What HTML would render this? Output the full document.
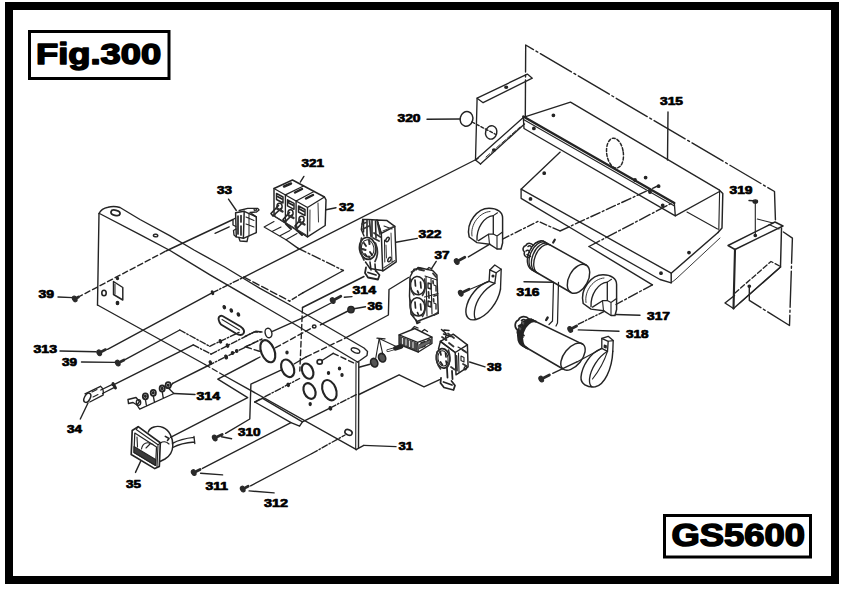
<!DOCTYPE html>
<html><head><meta charset="utf-8"><title>Fig.300 GS5600</title>
<style>
html,body{margin:0;padding:0;background:#fff;}
body{width:850px;height:598px;overflow:hidden;}
svg{display:block;}
text{font-family:"Liberation Sans",sans-serif;font-weight:bold;fill:#000;}
.lb{stroke:#000;stroke-width:.7px;}
.big{stroke:#000;stroke-width:1.5px;stroke-linejoin:round;}
</style></head><body>
<svg width="850" height="598" viewBox="0 0 850 598" stroke-linecap="round" stroke-linejoin="round">
<rect x="0" y="0" width="850" height="598" fill="#fff"/>
<rect x="9" y="6" width="826" height="574" fill="none" stroke="#000" stroke-width="8" stroke-linejoin="miter"/>
<rect x="29.5" y="31.5" width="139.5" height="47" fill="none" stroke="#000" stroke-width="3" stroke-linejoin="miter"/>
<rect x="664.5" y="515.5" width="146" height="41.5" fill="none" stroke="#000" stroke-width="3" stroke-linejoin="miter"/>
<text x="36" y="64" font-size="29.2" textLength="125.2" lengthAdjust="spacingAndGlyphs" class="big">Fig.300</text>
<text x="671.6" y="546.1" font-size="30.8" textLength="133.4" lengthAdjust="spacingAndGlyphs" class="big">GS5600</text>
<text x="38.5" y="297.7" font-size="11" textLength="15.5" lengthAdjust="spacingAndGlyphs" class="lb">39</text>
<text x="33.5" y="352.7" font-size="11" textLength="23.5" lengthAdjust="spacingAndGlyphs" class="lb">313</text>
<text x="62" y="366.2" font-size="11" textLength="15.0" lengthAdjust="spacingAndGlyphs" class="lb">39</text>
<text x="67" y="432.7" font-size="11" textLength="15.0" lengthAdjust="spacingAndGlyphs" class="lb">34</text>
<text x="126" y="487.7" font-size="11" textLength="15.0" lengthAdjust="spacingAndGlyphs" class="lb">35</text>
<text x="196.5" y="399.7" font-size="11" textLength="23.5" lengthAdjust="spacingAndGlyphs" class="lb">314</text>
<text x="238" y="436.2" font-size="11" textLength="22.5" lengthAdjust="spacingAndGlyphs" class="lb">310</text>
<text x="205.5" y="489.7" font-size="11" textLength="22.5" lengthAdjust="spacingAndGlyphs" class="lb">311</text>
<text x="264" y="507.2" font-size="11" textLength="24.0" lengthAdjust="spacingAndGlyphs" class="lb">312</text>
<text x="398.5" y="450.2" font-size="11" textLength="14.5" lengthAdjust="spacingAndGlyphs" class="lb">31</text>
<text x="217" y="193.7" font-size="11" textLength="15.0" lengthAdjust="spacingAndGlyphs" class="lb">33</text>
<text x="301.5" y="166.7" font-size="11" textLength="22.5" lengthAdjust="spacingAndGlyphs" class="lb">321</text>
<text x="339" y="210.7" font-size="11" textLength="15.0" lengthAdjust="spacingAndGlyphs" class="lb">32</text>
<text x="418.5" y="237.7" font-size="11" textLength="23.0" lengthAdjust="spacingAndGlyphs" class="lb">322</text>
<text x="434.5" y="258.7" font-size="11" textLength="15.0" lengthAdjust="spacingAndGlyphs" class="lb">37</text>
<text x="352.5" y="293.7" font-size="11" textLength="23.5" lengthAdjust="spacingAndGlyphs" class="lb">314</text>
<text x="367.5" y="309.7" font-size="11" textLength="15.0" lengthAdjust="spacingAndGlyphs" class="lb">36</text>
<text x="487" y="371.2" font-size="11" textLength="14.5" lengthAdjust="spacingAndGlyphs" class="lb">38</text>
<text x="516.5" y="296.2" font-size="11" textLength="23.0" lengthAdjust="spacingAndGlyphs" class="lb">316</text>
<text x="647" y="319.7" font-size="11" textLength="23.0" lengthAdjust="spacingAndGlyphs" class="lb">317</text>
<text x="626" y="337.7" font-size="11" textLength="22.5" lengthAdjust="spacingAndGlyphs" class="lb">318</text>
<text x="397.5" y="122.2" font-size="11" textLength="23.0" lengthAdjust="spacingAndGlyphs" class="lb">320</text>
<text x="660" y="104.7" font-size="11" textLength="23.0" lengthAdjust="spacingAndGlyphs" class="lb">315</text>
<text x="729.5" y="194.2" font-size="11" textLength="23.0" lengthAdjust="spacingAndGlyphs" class="lb">319</text>
<path d="M99.0,213.5 L97.5,305.0" fill="none" stroke="#242424" stroke-width="1.4"/>
<path d="M99,213.5 Q101.5,208.5 108,207.2 Q114,205.6 120,207.5 L140,219.5 L169.7,235.7 L194,250 L224.7,267 L260,288.4 L290,305 L364,348 L367.5,351.5 L367,355.5 L360,360.5 L357.5,362" fill="none" stroke="#242424" stroke-width="1.4"/>
<path d="M99.5,213.5 L140.0,234.6 L170.0,250.5 L210.0,274.8 L260.0,304.0 L290.0,321.5 L357.5,362.0" fill="none" stroke="#242424" stroke-width="1.4"/>
<path d="M358.8,362.0 L358.5,447.8" fill="none" stroke="#242424" stroke-width="1.4"/>
<path d="M356.0,362.5 L355.7,449.3" fill="none" stroke="#242424" stroke-width="1.12"/>
<path d="M356.0,449.7 L363.8,445.4" fill="none" stroke="#242424" stroke-width="1.4"/>
<path d="M97.5,305.0 L205.0,364.5" fill="none" stroke="#242424" stroke-width="1.4"/>
<path d="M205.0,364.5 L224.0,375.5" fill="none" stroke="#242424" stroke-width="1.4" stroke-dasharray="5.5 3"/>
<path d="M224.0,375.5 L356.5,449.7" fill="none" stroke="#242424" stroke-width="1.4"/>
<ellipse cx="115.5" cy="212.8" rx="4.6" ry="2.6" transform="rotate(14 115.5 212.8)" fill="none" stroke="#242424" stroke-width="1.79"/>
<ellipse cx="155.6" cy="235.5" rx="2.2" ry="1.3" transform="rotate(10 155.6 235.5)" fill="none" stroke="#242424" stroke-width="1.46"/>
<ellipse cx="355.5" cy="350.5" rx="4.5" ry="2.2" transform="rotate(22 355.5 350.5)" fill="none" stroke="#242424" stroke-width="1.4"/>
<path d="M113.5,281.5 L122.8,287.5 L122.8,300.0 L113.5,294.5 Z" fill="none" stroke="#242424" stroke-width="1.46"/>
<path d="M115.0,284.0 L115.0,294.0" fill="none" stroke="#242424" stroke-width="1.01"/>
<ellipse cx="104" cy="293" rx="2.2" ry="2.8" transform="rotate(0 104 293)" fill="none" stroke="#242424" stroke-width="1.57"/>
<ellipse cx="117.5" cy="303" rx="1.2" ry="1.6" transform="rotate(0 117.5 303)" fill="#242424" stroke="#242424" stroke-width="1.4"/>
<ellipse cx="117.5" cy="278.5" rx="1" ry="1" transform="rotate(0 117.5 278.5)" fill="#242424" stroke="#242424" stroke-width="1.4"/>
<path d="M222.5,316 L240.5,326.5 Q245.5,330 243.5,333.5 Q241,336.5 236,333.5 L221,324.5 Q217.5,320 219,317 Q220.5,315 222.5,316 Z" fill="none" stroke="#242424" stroke-width="1.9"/>
<path d="M222.0,319.5 L239.5,330.0" fill="none" stroke="#242424" stroke-width="1.01"/>
<ellipse cx="224.3" cy="307.2" rx="1.1" ry="1.6" transform="rotate(-20 224.3 307.2)" fill="#242424" stroke="#242424" stroke-width="1.4"/>
<ellipse cx="231.3" cy="310.5" rx="1.1" ry="1.6" transform="rotate(-20 231.3 310.5)" fill="#242424" stroke="#242424" stroke-width="1.4"/>
<ellipse cx="238.4" cy="314.5" rx="1.1" ry="1.6" transform="rotate(-20 238.4 314.5)" fill="#242424" stroke="#242424" stroke-width="1.4"/>
<ellipse cx="268.5" cy="333" rx="3.3" ry="4.8" transform="rotate(-15 268.5 333)" fill="none" stroke="#242424" stroke-width="1.46"/>
<ellipse cx="267.8" cy="351.2" rx="6.6" ry="11.6" transform="rotate(-22 267.8 351.2)" fill="none" stroke="#242424" stroke-width="2.13"/>
<ellipse cx="287.7" cy="368.3" rx="6" ry="9.2" transform="rotate(-24 287.7 368.3)" fill="none" stroke="#242424" stroke-width="2.13"/>
<ellipse cx="307.6" cy="371.1" rx="5.3" ry="8" transform="rotate(-24 307.6 371.1)" fill="none" stroke="#242424" stroke-width="2.13"/>
<ellipse cx="309.5" cy="391" rx="5.6" ry="8.2" transform="rotate(-24 309.5 391)" fill="none" stroke="#242424" stroke-width="2.13"/>
<ellipse cx="329.4" cy="390.2" rx="6.6" ry="10.6" transform="rotate(-22 329.4 390.2)" fill="none" stroke="#242424" stroke-width="2.13"/>
<ellipse cx="319.7" cy="361.9" rx="2.6" ry="2.2" transform="rotate(0 319.7 361.9)" fill="none" stroke="#242424" stroke-width="1.68"/>
<ellipse cx="348.5" cy="432.4" rx="3.8" ry="2.6" transform="rotate(25 348.5 432.4)" fill="none" stroke="#242424" stroke-width="1.57"/>
<ellipse cx="287" cy="352.5" rx="1" ry="1.4" transform="rotate(0 287 352.5)" fill="#242424" stroke="#242424" stroke-width="1.4"/>
<ellipse cx="310.2" cy="404.1" rx="1" ry="1.4" transform="rotate(0 310.2 404.1)" fill="#242424" stroke="#242424" stroke-width="1.4"/>
<ellipse cx="328.5" cy="373" rx="1" ry="1.4" transform="rotate(0 328.5 373)" fill="#242424" stroke="#242424" stroke-width="1.4"/>
<ellipse cx="339.5" cy="368.5" rx="1" ry="1.4" transform="rotate(0 339.5 368.5)" fill="#242424" stroke="#242424" stroke-width="1.4"/>
<ellipse cx="342" cy="375" rx="1" ry="1.4" transform="rotate(0 342 375)" fill="#242424" stroke="#242424" stroke-width="1.4"/>
<ellipse cx="314.2" cy="326.5" rx="1.8" ry="1.5" transform="rotate(0 314.2 326.5)" fill="none" stroke="#242424" stroke-width="1.4"/>
<path d="M77.5,297.5 L166.0,251.0" fill="none" stroke="#242424" stroke-width="1.4" stroke-dasharray="5.5 3"/>
<path d="M166.0,251.0 L233.0,219.5" fill="none" stroke="#242424" stroke-width="1.4"/>
<path d="M58.0,297.0 L73.0,297.6" fill="none" stroke="#242424" stroke-width="1.4"/>
<path d="M74.0,299.3 L78.5,297.0" fill="none" stroke="#2a2a2a" stroke-width="2.8"/>
<ellipse cx="74.7" cy="298.9" rx="2.1" ry="3.0" transform="rotate(-27 74.7 298.9)" fill="#2a2a2a" stroke="#2a2a2a" stroke-width="1.12"/>
<path d="M107.5,349.3 L212.5,292.7" fill="none" stroke="#242424" stroke-width="1.4"/>
<path d="M212.5,292.7 L244.0,277.1" fill="none" stroke="#242424" stroke-width="1.4" stroke-dasharray="6 2 1.5 2"/>
<path d="M244.0,277.1 L478.0,158.5" fill="none" stroke="#242424" stroke-width="1.4"/>
<path d="M60.0,351.0 L96.0,351.8" fill="none" stroke="#242424" stroke-width="1.4"/>
<path d="M98.5,353.2 L105.6,349.6" fill="none" stroke="#2a2a2a" stroke-width="2.8"/>
<ellipse cx="99.2" cy="352.8" rx="2.1" ry="3.0" transform="rotate(-27 99.2 352.8)" fill="#2a2a2a" stroke="#2a2a2a" stroke-width="1.12"/>
<ellipse cx="212.5" cy="292.7" rx="0.9" ry="1.8" transform="rotate(-20 212.5 292.7)" fill="#242424" stroke="#242424" stroke-width="1.4"/>
<path d="M125.5,359.3 L179.8,330.0" fill="none" stroke="#242424" stroke-width="1.4"/>
<path d="M179.8,330.0 L209.7,346.3" fill="none" stroke="#242424" stroke-width="1.4" stroke-dasharray="6 2 1.5 2"/>
<path d="M209.7,346.3 L239.6,332.1" fill="none" stroke="#242424" stroke-width="1.4" stroke-dasharray="6 2 1.5 2"/>
<ellipse cx="220.4" cy="341.3" rx="1" ry="1.7" transform="rotate(-20 220.4 341.3)" fill="#242424" stroke="#242424" stroke-width="1.4"/>
<path d="M81.5,362.0 L115.5,362.4" fill="none" stroke="#242424" stroke-width="1.4"/>
<path d="M117.0,363.5 L124.1,359.9" fill="none" stroke="#2a2a2a" stroke-width="2.8"/>
<ellipse cx="117.7" cy="363.1" rx="2.1" ry="3.0" transform="rotate(-27 117.7 363.1)" fill="#2a2a2a" stroke="#2a2a2a" stroke-width="1.12"/>
<path d="M112.5,385.4 L193.3,344.9" fill="none" stroke="#242424" stroke-width="1.4"/>
<path d="M193.3,344.9 L211.1,354.1" fill="none" stroke="#242424" stroke-width="1.4" stroke-dasharray="6 2 1.5 2"/>
<path d="M211.1,354.1 L253.8,332.1 L260.5,332.0" fill="none" stroke="#242424" stroke-width="1.4" stroke-dasharray="6 2 1.5 2"/>
<ellipse cx="227.5" cy="345.6" rx="1" ry="1.7" transform="rotate(-20 227.5 345.6)" fill="#242424" stroke="#242424" stroke-width="1.4"/>
<path d="M245.0,336.3 L255.7,331.3 L262.0,332.0" fill="none" stroke="#242424" stroke-width="1.4"/>
<path d="M172.7,383.3 L208.3,365.5" fill="none" stroke="#242424" stroke-width="1.4"/>
<path d="M208.3,365.5 L260.0,339.9" fill="none" stroke="#242424" stroke-width="1.4" stroke-dasharray="6 2 1.5 2"/>
<ellipse cx="210.4" cy="362.5" rx="1" ry="1.7" transform="rotate(-20 210.4 362.5)" fill="#242424" stroke="#242424" stroke-width="1.4"/>
<ellipse cx="226.1" cy="357" rx="1.2" ry="1.9" transform="rotate(-20 226.1 357)" fill="#242424" stroke="#242424" stroke-width="1.4"/>
<ellipse cx="236.7" cy="351" rx="1.1" ry="1.4" transform="rotate(0 236.7 351)" fill="#242424" stroke="#242424" stroke-width="1.4"/>
<ellipse cx="232.5" cy="353" rx="1.1" ry="1.4" transform="rotate(0 232.5 353)" fill="#242424" stroke="#242424" stroke-width="1.4"/>
<path d="M170.5,437.3 L247.7,397.7 L217.8,379.2 L260.0,357.0" fill="none" stroke="#242424" stroke-width="1.4"/>
<path d="M245.0,347.0 L262.0,339.0" fill="none" stroke="#242424" stroke-width="1.4" stroke-dasharray="5.5 3"/>
<path d="M225.6,433.3 L249.8,419.0 L250.9,384.2 L282.0,369.7" fill="none" stroke="#242424" stroke-width="1.4"/>
<path d="M221.5,436.8 L231.6,438.7" fill="none" stroke="#242424" stroke-width="1.4"/>
<path d="M214.0,438.3 L222.2,434.5" fill="none" stroke="#2a2a2a" stroke-width="2.8"/>
<ellipse cx="214.7" cy="438.0" rx="2.1" ry="3.0" transform="rotate(-25 214.7 438.0)" fill="#2a2a2a" stroke="#2a2a2a" stroke-width="1.12"/>
<path d="M202.5,468.4 L291.0,422.6 L254.8,402.0" fill="none" stroke="#242424" stroke-width="1.4"/>
<path d="M254.8,402.0 L262.6,398.4 L302.4,421.9 L299.6,426.2 L291.0,422.6" fill="none" stroke="#242424" stroke-width="1.4"/>
<path d="M254.8,402.0 L299.6,378.5" fill="none" stroke="#242424" stroke-width="1.4" stroke-dasharray="6 2 1.5 2"/>
<path d="M302.4,421.9 L330.4,407.8" fill="none" stroke="#242424" stroke-width="1.4"/>
<path d="M330.4,407.8 L356.5,394.5" fill="none" stroke="#242424" stroke-width="1.4" stroke-dasharray="6 2 1.5 2"/>
<ellipse cx="288.2" cy="384.9" rx="1" ry="1.6" transform="rotate(-20 288.2 384.9)" fill="#242424" stroke="#242424" stroke-width="1.4"/>
<ellipse cx="330.4" cy="408.3" rx="1.1" ry="1.7" transform="rotate(-20 330.4 408.3)" fill="#242424" stroke="#242424" stroke-width="1.4"/>
<path d="M200.6,473.2 L222.6,474.9" fill="none" stroke="#242424" stroke-width="1.4"/>
<path d="M193.0,473.0 L200.1,469.4" fill="none" stroke="#2a2a2a" stroke-width="2.8"/>
<ellipse cx="193.7" cy="472.6" rx="2.1" ry="3.0" transform="rotate(-27 193.7 472.6)" fill="#2a2a2a" stroke="#2a2a2a" stroke-width="1.12"/>
<path d="M250.6,485.8 L312.0,453.5" fill="none" stroke="#242424" stroke-width="1.4"/>
<path d="M312.0,453.5 L345.0,435.0" fill="none" stroke="#242424" stroke-width="1.4" stroke-dasharray="6 2 1.5 2"/>
<path d="M249.1,490.9 L274.1,492.9" fill="none" stroke="#242424" stroke-width="1.4"/>
<path d="M242.0,489.5 L248.2,486.3" fill="none" stroke="#2a2a2a" stroke-width="2.8"/>
<ellipse cx="242.7" cy="489.1" rx="2.1" ry="3.0" transform="rotate(-27 242.7 489.1)" fill="#2a2a2a" stroke="#2a2a2a" stroke-width="1.12"/>
<path d="M363.8,445.4 L396.0,446.6" fill="none" stroke="#242424" stroke-width="1.4"/>
<path d="M302.5,307.5 L299.8,371.0" fill="none" stroke="#242424" stroke-width="1.4" stroke-dasharray="5.5 3"/>
<path d="M272.5,331.3 L302.6,317.8" fill="none" stroke="#242424" stroke-width="1.4"/>
<path d="M302.6,317.8 L332.0,302.5" fill="none" stroke="#242424" stroke-width="1.4"/>
<path d="M246.0,347.0 L260.0,351.5" fill="none" stroke="#242424" stroke-width="1.4" stroke-dasharray="5.5 3"/>
<path d="M275.6,347.7 L313.0,327.3" fill="none" stroke="#242424" stroke-width="1.4" stroke-dasharray="5.5 3"/>
<path d="M320.4,324.9 L348.0,311.0" fill="none" stroke="#242424" stroke-width="1.4"/>
<path d="M294.0,364.0 L306.2,356.9" fill="none" stroke="#242424" stroke-width="1.4"/>
<path d="M306.2,356.9 L344.6,338.4" fill="none" stroke="#242424" stroke-width="1.4" stroke-dasharray="5.5 3"/>
<path d="M344.6,338.4 L388.4,315.0 L389.0,289.5 L408.5,277.5" fill="none" stroke="#242424" stroke-width="1.4"/>
<path d="M322.0,360.5 L333.2,353.3" fill="none" stroke="#242424" stroke-width="1.4"/>
<path d="M333.2,353.3 L356.0,364.0" fill="none" stroke="#242424" stroke-width="1.4" stroke-dasharray="5.5 3"/>
<path d="M359.0,367.3 L370.0,364.3" fill="none" stroke="#242424" stroke-width="1.4"/>
<path d="M525.3,116.0 L525.7,45.0 L774.5,191.5 L775.5,222.0" fill="none" stroke="#242424" stroke-width="1.4" stroke-dasharray="36 3 2 3"/>
<path d="M783.4,232.0 L792.4,238.2 L789.5,325.5 L749.3,300.4 L749.3,286.3" fill="none" stroke="#242424" stroke-width="1.4" stroke-dasharray="36 3 2 3"/>
<path d="M477.1,98.2 L527.3,74.1 L532.3,78.2 L483.1,102.7 Z" fill="none" stroke="#242424" stroke-width="1.34"/>
<path d="M477.1,98.2 L475.5,160.0 L480.5,164.0" fill="none" stroke="#242424" stroke-width="1.34"/>
<path d="M475.5,160.0 L523.3,117.5" fill="none" stroke="#242424" stroke-width="1.34"/>
<path d="M480.5,164.0 L524.5,124.0" fill="none" stroke="#242424" stroke-width="1.34"/>
<path d="M486.0,157.0 L520.0,127.0" fill="none" stroke="#242424" stroke-width="0.9" stroke-dasharray="5 2"/>
<ellipse cx="506.2" cy="87.2" rx="1.4" ry="1" transform="rotate(0 506.2 87.2)" fill="#242424" stroke="#242424" stroke-width="1.4"/>
<ellipse cx="491.2" cy="132.4" rx="5.6" ry="6.8" transform="rotate(15 491.2 132.4)" fill="none" stroke="#242424" stroke-width="1.46"/>
<ellipse cx="466.5" cy="118.9" rx="6.3" ry="7.4" transform="rotate(15 466.5 118.9)" fill="none" stroke="#242424" stroke-width="1.46"/>
<path d="M427.0,119.3 L460.0,119.0" fill="none" stroke="#242424" stroke-width="1.4"/>
<path d="M472.0,122.0 L496.0,134.5" fill="none" stroke="#242424" stroke-width="1.4" stroke-dasharray="3 2"/>
<ellipse cx="494" cy="150" rx="1.4" ry="1" transform="rotate(0 494 150)" fill="#242424" stroke="#242424" stroke-width="1.4"/>
<path d="M523.3,117.3 L570.5,102.2 L719.5,190.2" fill="none" stroke="#242424" stroke-width="1.34"/>
<path d="M523.3,116.5 L674.3,203.0" fill="none" stroke="#242424" stroke-width="2.46"/>
<path d="M523.5,119.5 L674.5,206.0" fill="none" stroke="#242424" stroke-width="1.12"/>
<path d="M523.3,117.3 L524.0,128.5 L675.3,215.8 L674.3,203.0" fill="none" stroke="#242424" stroke-width="1.34"/>
<path d="M675.3,215.8 L719.5,191.5" fill="none" stroke="#242424" stroke-width="1.34"/>
<path d="M719.5,190.2 L722.8,193.5 L722.0,228.0 L718.0,232.5" fill="none" stroke="#242424" stroke-width="1.46"/>
<path d="M719.6,192.0 L718.8,230.0" fill="none" stroke="#242424" stroke-width="1.12"/>
<path d="M718.0,232.5 L671.2,273.2 L671.2,282.8" fill="none" stroke="#242424" stroke-width="1.46"/>
<path d="M687.0,212.0 L717.5,229.0" fill="none" stroke="#242424" stroke-width="1.12"/>
<path d="M671.2,282.8 L676.0,279.0 L720.0,238.0" fill="none" stroke="#242424" stroke-width="0.9"/>
<path d="M560.2,152.1 L521.1,189.2 L521.1,198.3 L604.4,248.0 L660.0,279.5 L671.2,282.8" fill="none" stroke="#242424" stroke-width="1.34"/>
<path d="M521.1,189.2 L671.2,273.2" fill="none" stroke="#242424" stroke-width="1.34"/>
<ellipse cx="615" cy="153.1" rx="8.3" ry="15" transform="rotate(-8 615 153.1)" fill="none" stroke="#242424" stroke-width="1.46" stroke-dasharray="3 2"/>
<ellipse cx="553.4" cy="115.3" rx="1.2" ry="1.2" transform="rotate(0 553.4 115.3)" fill="#242424" stroke="#242424" stroke-width="1.4"/>
<ellipse cx="533.9" cy="128.4" rx="1.2" ry="1.2" transform="rotate(0 533.9 128.4)" fill="#242424" stroke="#242424" stroke-width="1.4"/>
<ellipse cx="544.2" cy="173.2" rx="1.2" ry="1.2" transform="rotate(0 544.2 173.2)" fill="#242424" stroke="#242424" stroke-width="1.4"/>
<ellipse cx="530.5" cy="198.9" rx="1.2" ry="1.2" transform="rotate(0 530.5 198.9)" fill="#242424" stroke="#242424" stroke-width="1.4"/>
<ellipse cx="645.6" cy="177.6" rx="1.2" ry="1.2" transform="rotate(0 645.6 177.6)" fill="#242424" stroke="#242424" stroke-width="1.4"/>
<ellipse cx="658.6" cy="186.2" rx="1.2" ry="1.2" transform="rotate(0 658.6 186.2)" fill="#242424" stroke="#242424" stroke-width="1.4"/>
<ellipse cx="662.7" cy="205.3" rx="1.2" ry="1.2" transform="rotate(0 662.7 205.3)" fill="#242424" stroke="#242424" stroke-width="1.4"/>
<ellipse cx="689" cy="252.6" rx="1.2" ry="1.2" transform="rotate(0 689 252.6)" fill="#242424" stroke="#242424" stroke-width="1.4"/>
<ellipse cx="661" cy="273.2" rx="1.2" ry="1.2" transform="rotate(0 661 273.2)" fill="#242424" stroke="#242424" stroke-width="1.4"/>
<ellipse cx="635" cy="180" rx="1.2" ry="1.2" transform="rotate(0 635 180)" fill="#242424" stroke="#242424" stroke-width="1.4"/>
<ellipse cx="650" cy="192" rx="1.2" ry="1.2" transform="rotate(0 650 192)" fill="#242424" stroke="#242424" stroke-width="1.4"/>
<path d="M668.0,112.0 L667.5,160.0" fill="none" stroke="#242424" stroke-width="1.4"/>
<path d="M728.0,245.5 L775.0,222.0 L783.0,226.0 L735.0,249.5 Z" fill="none" stroke="#242424" stroke-width="1.46"/>
<path d="M735.0,249.5 L733.5,308.5" fill="none" stroke="#242424" stroke-width="2.13"/>
<path d="M781.5,228.0 L780.5,267.0" fill="none" stroke="#242424" stroke-width="1.46"/>
<path d="M733.5,308.5 L780.5,267.0" fill="none" stroke="#242424" stroke-width="1.57"/>
<path d="M740.0,302.8 L779.5,268.0" fill="none" stroke="#242424" stroke-width="1.01"/>
<path d="M733.5,308.5 L725.0,303.0 L734.5,295.5" fill="none" stroke="#242424" stroke-width="1.46"/>
<path d="M735.0,293.0 L771.0,261.5 L780.5,266.5" fill="none" stroke="#242424" stroke-width="1.34" stroke-dasharray="5 2.5"/>
<path d="M769.0,224.5 L779.0,229.0" fill="none" stroke="#242424" stroke-width="1.12"/>
<ellipse cx="755.3" cy="201.5" rx="2.2" ry="1.6" transform="rotate(0 755.3 201.5)" fill="#242424" stroke="#242424" stroke-width="1.4"/>
<path d="M749.0,200.5 L753.0,200.8" fill="none" stroke="#242424" stroke-width="1.4"/>
<path d="M755.3,203.0 L755.3,235.0" fill="none" stroke="#242424" stroke-width="1.12"/>
<ellipse cx="755.3" cy="235.5" rx="1.2" ry="1" transform="rotate(0 755.3 235.5)" fill="#242424" stroke="#242424" stroke-width="1.4"/>
<ellipse cx="749.3" cy="286.3" rx="1.2" ry="1" transform="rotate(0 749.3 286.3)" fill="#242424" stroke="#242424" stroke-width="1.4"/>
<path d="M757.3,219.1 L773.0,223.0" fill="none" stroke="#242424" stroke-width="1.01"/>
<path d="M 469.2,237.0 C 465.5,222.0 478.0,208.3 489.0,208.3 C 497.0,208.3 502.6,212.0 502.6,218.0 L 502.6,243.0 L 501.0,249.0 L 497.0,249.0 L 489.5,244.2 L 477.0,242.6 Z" fill="none" stroke="#242424" stroke-width="1.46"/>
<path d="M 477.0,240.2 C 476.5,228.0 484.0,216.5 493.3,215.6 L 493.3,234.0 L 488.5,234.2 L 478.5,240.6" fill="none" stroke="#242424" stroke-width="1.34"/>
<path d="M 493.3,215.6 L 497.5,212.8 M 493.3,234.0 L 497.0,236.0 L 497.0,249.0 M 488.5,234.2 L 489.5,244.2 M 497.0,236.0 L 502.6,232.0" fill="none" stroke="#242424" stroke-width="1.12"/>
<path d="M 472.0,236.0 C 470.0,224.0 480.0,212.0 490.0,211.5" fill="none" stroke="#242424" stroke-width="0.9"/>
<path d="M456.0,262.0 L464.8,257.3" fill="none" stroke="#2a2a2a" stroke-width="2.8"/>
<ellipse cx="456.7" cy="261.6" rx="2.1" ry="3.0" transform="rotate(-28 456.7 261.6)" fill="#2a2a2a" stroke="#2a2a2a" stroke-width="1.12"/>
<path d="M468.4,256.9 L489.8,244.1" fill="none" stroke="#242424" stroke-width="1.4"/>
<path d="M502.6,239.1 L538.2,221.3 L560.0,231.0" fill="none" stroke="#242424" stroke-width="1.4" stroke-dasharray="7 2.5 2 2.5"/>
<path d="M560.0,231.0 L658.6,185.5" fill="none" stroke="#242424" stroke-width="1.4" stroke-dasharray="10 2.5 2 2.5"/>
<path d="M 583.2,303.5 C 579.5,288.5 592.0,274.8 603.0,274.8 C 611.0,274.8 616.6,278.5 616.6,284.5 L 616.6,309.5 L 615.0,315.5 L 611.0,315.5 L 603.5,310.7 L 591.0,309.1 Z" fill="none" stroke="#242424" stroke-width="1.46"/>
<path d="M 591.0,306.7 C 590.5,294.5 598.0,283.0 607.3,282.1 L 607.3,300.5 L 602.5,300.7 L 592.5,307.1" fill="none" stroke="#242424" stroke-width="1.34"/>
<path d="M 607.3,282.1 L 611.5,279.3 M 607.3,300.5 L 611.0,302.5 L 611.0,315.5 M 602.5,300.7 L 603.5,310.7 M 611.0,302.5 L 616.6,298.5" fill="none" stroke="#242424" stroke-width="1.12"/>
<path d="M 586.0,302.5 C 584.0,290.5 594.0,278.5 604.0,278.0" fill="none" stroke="#242424" stroke-width="0.9"/>
<path d="M615.5,314.5 L640.0,315.2" fill="none" stroke="#242424" stroke-width="1.4"/>
<path d="M569.5,329.8 L576.6,326.0" fill="none" stroke="#2a2a2a" stroke-width="2.8"/>
<ellipse cx="570.2" cy="329.4" rx="2.1" ry="3.0" transform="rotate(-28 570.2 329.4)" fill="#2a2a2a" stroke="#2a2a2a" stroke-width="1.12"/>
<path d="M578.3,324.2 L606.0,310.5" fill="none" stroke="#242424" stroke-width="1.4" stroke-dasharray="6 2 1.5 2"/>
<path d="M578.3,329.9 L619.0,331.3" fill="none" stroke="#242424" stroke-width="1.4"/>
<path d="M489.8,269.9 L494.8,265.0 L501.2,269.2 L500.5,289.1" fill="none" stroke="#242424" stroke-width="1.34"/>
<path d="M489.8,269.9 L496.2,272.8 L494.8,283.4 L489.1,281.3 Z" fill="none" stroke="#242424" stroke-width="1.34"/>
<path d="M496.2,272.8 L501.2,269.2" fill="none" stroke="#242424" stroke-width="1.12"/>
<ellipse cx="493" cy="276" rx="0.9" ry="0.9" transform="rotate(0 493 276)" fill="#242424" stroke="#242424" stroke-width="1.4"/>
<path d="M489.1,281.3 C478,285 468,296 466,309 C465,318 470,321 476,319.5 C487,316.5 498,303 500.5,289.1" fill="none" stroke="#242424" stroke-width="1.46"/>
<path d="M494.8,283.4 C484,289 476,300 474.5,311 C474,316 474.5,318.5 476,319.5" fill="none" stroke="#242424" stroke-width="1.34"/>
<path d="M489.1,281.3 L470.6,289" fill="none" stroke="#242424" stroke-width="1.12"/>
<path d="M460.0,293.5 L469.1,289.3" fill="none" stroke="#2a2a2a" stroke-width="2.8"/>
<ellipse cx="460.7" cy="293.2" rx="2.1" ry="3.0" transform="rotate(-25 460.7 293.2)" fill="#2a2a2a" stroke="#2a2a2a" stroke-width="1.12"/>
<path d="M601.8,338.4 L608.2,336.3 L613.2,340.6 L612.8,351.3" fill="none" stroke="#242424" stroke-width="1.34"/>
<path d="M601.8,338.4 L608.2,341.3 L607.5,351.3 L601.8,348.4 Z" fill="none" stroke="#242424" stroke-width="1.34"/>
<path d="M608.2,341.3 L613.2,340.6" fill="none" stroke="#242424" stroke-width="1.12"/>
<path d="M604.3,345.0 L606.3,345.8 L606.1,348.0 L604.1,347.2 Z" fill="#242424" stroke="#242424" stroke-width="1.12"/>
<path d="M601.8,348.4 C590,353 582,366 581,377 C580.5,384 587,387.5 595.4,386.8 C604,385 612,370 612.8,351.3" fill="none" stroke="#242424" stroke-width="1.46"/>
<path d="M607.5,351.3 C598,357 590.5,369 589.5,379 C589.3,383 590.5,386 592,386.8" fill="none" stroke="#242424" stroke-width="1.34"/>
<path d="M607.5,351.3 C604,362 598,372 592.5,379" fill="none" stroke="#242424" stroke-width="1.12"/>
<path d="M576.9,361.9 L601.8,348.4" fill="none" stroke="#242424" stroke-width="1.12"/>
<path d="M540.5,379.5 L549.4,375.0" fill="none" stroke="#2a2a2a" stroke-width="2.8"/>
<ellipse cx="541.2" cy="379.1" rx="2.1" ry="3.0" transform="rotate(-27 541.2 379.1)" fill="#2a2a2a" stroke="#2a2a2a" stroke-width="1.12"/>
<path d="M552.7,373.3 L576.9,361.9" fill="none" stroke="#242424" stroke-width="1.4"/>
<ellipse cx="578.5" cy="278.8" rx="9.5" ry="15.7" transform="rotate(28.6 578.5 278.8)" fill="none" stroke="#242424" stroke-width="1.46"/>
<path d="M543.0,241.0 L586.0,265.0" fill="none" stroke="#242424" stroke-width="1.46"/>
<path d="M531.5,269.5 L571.0,292.5" fill="none" stroke="#242424" stroke-width="1.46"/>
<path d="M543.0,241.0 A9.5,15.4 22.0 0 0 531.5,269.5" fill="none" stroke="#242424" stroke-width="1.34"/>
<path d="M545.4,242.3 A9.5,15.4 22.0 0 0 533.8,270.9" fill="none" stroke="#242424" stroke-width="1.34"/>
<path d="M547.7,243.6 A9.5,15.4 22.0 0 0 536.2,272.2" fill="none" stroke="#242424" stroke-width="1.34"/>
<path d="M550.1,244.9 A9.5,15.4 22.0 0 0 538.5,273.6" fill="none" stroke="#242424" stroke-width="1.34"/>
<ellipse cx="573.0" cy="356.6" rx="9" ry="15.9" transform="rotate(39.0 573.0 356.6)" fill="none" stroke="#242424" stroke-width="1.46"/>
<path d="M531.5,319.5 L583.0,344.3" fill="none" stroke="#242424" stroke-width="1.46"/>
<path d="M523.5,346.0 L563.0,369.0" fill="none" stroke="#242424" stroke-width="1.46"/>
<path d="M531.5,319.5 A9.0,13.8 16.8 0 0 523.5,346.0" fill="none" stroke="#242424" stroke-width="2.13"/>
<path d="M532.9,320.2 A9.0,13.8 16.8 0 0 524.9,346.8" fill="none" stroke="#242424" stroke-width="2.13"/>
<path d="M534.4,320.9 A9.0,13.8 16.8 0 0 526.3,347.6" fill="none" stroke="#242424" stroke-width="2.13"/>
<path d="M535.8,321.6 A9.0,13.8 16.8 0 0 527.6,348.4" fill="none" stroke="#242424" stroke-width="2.13"/>
<path d="M533.5,245.5 C531,242.5 527,242.5 526,245.5 C523,246 522,250 524.5,252 C523.5,255 525.5,257.5 528.5,257.5" fill="none" stroke="#242424" stroke-width="1.57"/>
<path d="M528,246.5 C529.5,245 531.5,246 531.5,248 M526,251 C527.5,249.5 529.5,250.5 529.5,252.5 M527,254.5 L530.5,256.5" fill="none" stroke="#242424" stroke-width="1.46"/>
<path d="M553.2,242.5 L554.8,239.8" fill="none" stroke="#242424" stroke-width="2.24"/>
<path d="M535,243.5 L541,241" fill="none" stroke="#242424" stroke-width="1.12"/>
<path d="M529,319 C526,315.5 520,316 518.5,320 C514.5,321.5 514,327.5 517.5,330 C516.5,334 519,337 523,337" fill="none" stroke="#242424" stroke-width="1.68"/>
<path d="M521.5,320.5 C523.5,318.5 526.5,320 526.5,322.5 L525,326 M518.5,326 C520.5,324 523.5,325.5 523.5,328 L522.5,331 M519.5,333 L524,335.5" fill="none" stroke="#242424" stroke-width="1.68"/>
<path d="M522.5,321 L525,322.5 L524,325.5 L521.5,324 Z M519.5,326.5 L522,328 L521,331 L518.5,329.5 Z" fill="#555" stroke="#242424" stroke-width="0.9"/>
<path d="M546.2,320.0 L547.6,317.6" fill="none" stroke="#242424" stroke-width="2.46"/>
<path d="M524.0,281.8 L553.0,282.2" fill="none" stroke="#242424" stroke-width="1.4"/>
<path d="M553.5,282.3 L552.5,321.0 L549.0,324.5" fill="none" stroke="#242424" stroke-width="1.23"/>
<path d="M558.5,282.3 L557.5,323.0 L556.0,326.0" fill="none" stroke="#242424" stroke-width="1.23"/>
<path d="M589.0,246.5 L671.0,203.5" fill="none" stroke="#242424" stroke-width="1.4" stroke-dasharray="12 2.5 2 2.5"/>
<path d="M589.0,246.5 L652.4,284.8" fill="none" stroke="#242424" stroke-width="1.4"/>
<path d="M652.4,284.8 L616.0,304.5" fill="none" stroke="#242424" stroke-width="1.4" stroke-dasharray="10 2.5 2 2.5"/>
<path d="M377,219.9 L387,220.6 L394.8,226.3 L396.2,261.9 L382.7,271.1 L381.3,233.4 Z" fill="none" stroke="#242424" stroke-width="1.46"/>
<path d="M381.3,233.4 L394.8,226.3 M362.8,219.2 L377,219.9 L381.3,233.4 M362.8,219.2 L361.3,229.5 L364,236 M365.5,262 L370,268.5 L382,270.5" fill="none" stroke="#242424" stroke-width="1.46"/>
<ellipse cx="367.7" cy="248.4" rx="8.2" ry="11" transform="rotate(-8 367.7 248.4)" fill="none" stroke="#242424" stroke-width="1.68"/>
<ellipse cx="367.7" cy="248.4" rx="6.2" ry="8.6" transform="rotate(-8 367.7 248.4)" fill="none" stroke="#242424" stroke-width="1.01"/>
<path d="M363.5,220.5 L363.5,232 M367,220 L367,236 M372,220.5 L372,237 M375.5,221 L376,238" fill="none" stroke="#242424" stroke-width="1.57"/>
<path d="M364,243 L366,246 M370,252 L372,255 M365,254 L367,256.5" fill="none" stroke="#242424" stroke-width="1.79"/>
<ellipse cx="387.5" cy="239.5" rx="1.4" ry="2.4" transform="rotate(30 387.5 239.5)" fill="none" stroke="#242424" stroke-width="1.46"/>
<ellipse cx="389.5" cy="259.5" rx="1.4" ry="2.4" transform="rotate(30 389.5 259.5)" fill="none" stroke="#242424" stroke-width="1.46"/>
<path d="M384,226 L392,229 M384.5,240 L384.8,262" fill="none" stroke="#242424" stroke-width="1.01"/>
<path d="M366,267.5 L365,273 L368,277.5 L378,279.5 L379.5,275 L376,271 M368,272.5 L376,275" fill="none" stroke="#242424" stroke-width="1.79"/>
<path d="M370,262 L371,270 M375,264 L375.5,271" fill="none" stroke="#242424" stroke-width="1.57"/>
<path d="M396.0,242.2 L417.3,238.4" fill="none" stroke="#242424" stroke-width="1.4"/>
<path d="M364.0,276.5 L302.5,307.5" fill="none" stroke="#242424" stroke-width="1.4"/>
<path d="M414.1,269.2 L422,268.3 L432.6,270.6 L436.9,274.9 L438.3,313.3 L417,321.5 L411,314 L409.5,296 L410,277 Z" fill="none" stroke="#242424" stroke-width="1.46"/>
<ellipse cx="417.7" cy="285.6" rx="7.2" ry="9.2" transform="rotate(-8 417.7 285.6)" fill="none" stroke="#242424" stroke-width="1.57"/>
<ellipse cx="417.7" cy="306.9" rx="7.2" ry="9.2" transform="rotate(-8 417.7 306.9)" fill="none" stroke="#242424" stroke-width="1.57"/>
<path d="M425,276 L437,280 M424.5,297 L438,293.5 M426,277 L427,316 M431,279 L432,314" fill="none" stroke="#242424" stroke-width="1.12"/>
<path d="M415,280 L415.5,286 M420.5,282 L421,288 M415,302 L415.5,308 M420.5,304 L421,310 M417.5,291 L418.5,293 M417.5,312.5 L418.5,315" fill="none" stroke="#242424" stroke-width="1.68"/>
<path d="M428,283 L431,284 L431,289 L428,288 Z M428,301 L431,302 L431,307 L428,306 Z M434,285 L436,286 L436,291 M434,303 L436,304 L436,309" fill="none" stroke="#242424" stroke-width="1.34"/>
<path d="M416,270 L418,267.5 L421,268 M427,269.5 L429,267.5 L432,269" fill="none" stroke="#242424" stroke-width="1.34"/>
<path d="M416,320 L417,323.5 L420,322" fill="none" stroke="#242424" stroke-width="1.57"/>
<path d="M436.2,261.4 L431.2,269.2" fill="none" stroke="#242424" stroke-width="1.4"/>
<path d="M440.4,341.3 L453.2,334.2 L467.4,344.9 L468.1,366.9 L456,374.8 L455.2,352.5 Z" fill="none" stroke="#242424" stroke-width="1.46"/>
<path d="M455.2,352.5 L467.4,344.9 M440.4,341.3 L455.2,352.5 M440.4,341.3 L438.5,349" fill="none" stroke="#242424" stroke-width="1.46"/>
<ellipse cx="443" cy="358.4" rx="6.8" ry="9.8" transform="rotate(-8 443 358.4)" fill="none" stroke="#242424" stroke-width="1.68"/>
<ellipse cx="443" cy="358.4" rx="5" ry="7.6" transform="rotate(-8 443 358.4)" fill="none" stroke="#242424" stroke-width="1.01"/>
<path d="M440,351 L441,355 M445.5,353 L446,357 M440.5,362 L442.5,365 M446,361 L447,365" fill="none" stroke="#242424" stroke-width="1.68"/>
<path d="M441.5,329.5 L446,333.5 L445.5,340 M444,330 L449,330.5 M443.5,334 L451,336.5" fill="none" stroke="#242424" stroke-width="1.57"/>
<path d="M458,347 L465,351 M458.5,353 L459,372 M461,356 L464,357.5 L464,362 L461,360.5 Z" fill="none" stroke="#242424" stroke-width="1.12"/>
<ellipse cx="465.5" cy="368" rx="1.2" ry="2" transform="rotate(30 465.5 368)" fill="none" stroke="#242424" stroke-width="1.34"/>
<path d="M447,368.5 L447.5,377.5 M452,371 L452.5,379 M441,378 L440.5,383 L444,387.5 L453.5,390 L455,385.5 L451.5,381 M443.5,382 L452,385" fill="none" stroke="#242424" stroke-width="1.79"/>
<path d="M469.6,362.0 L485.0,366.9" fill="none" stroke="#242424" stroke-width="1.4"/>
<path d="M439.7,379.7 L424.0,386.9 L399.1,374.8 L359.0,394.5" fill="none" stroke="#242424" stroke-width="1.4"/>
<path d="M399.1,334.9 L414.8,328.5 L431.9,337.1 L431.9,343.5 L418.3,352 L399.1,344.2 Z" fill="none" stroke="#242424" stroke-width="1.46"/>
<path d="M399.1,334.9 L417.6,342.3 L431.9,337.1 M417.6,342.3 L418.3,352" fill="none" stroke="#242424" stroke-width="1.34"/>
<path d="M401,338 L401,343.5 M404,339 L404,345 M407,340.2 L407,346.2 M410,341.4 L410,347.4 M413,342.6 L413,348.6" fill="none" stroke="#242424" stroke-width="1.68"/>
<path d="M421,343 L425,341.5 L425,346 L421,347.5 Z M427.5,340.5 L430,339.5 L430,343.5" fill="none" stroke="#242424" stroke-width="1.46"/>
<path d="M412,329 L414.5,326.5 L418,328 M422,331.5 L424.5,329.5 L427.5,331.5" fill="none" stroke="#242424" stroke-width="1.34"/>
<path d="M387.8,350.6 L399.9,347.0" fill="none" stroke="#242424" stroke-width="2.69"/>
<path d="M387.8,350.6 L393.5,349.0" fill="none" stroke="#fff" stroke-width="1.12"/>
<path d="M395.5,348.3 L401.0,346.6" fill="none" stroke="#242424" stroke-width="4.7"/>
<ellipse cx="382.1" cy="357.7" rx="3.4" ry="4.4" transform="rotate(-25 382.1 357.7)" fill="#555" stroke="#242424" stroke-width="1.68"/>
<ellipse cx="374.2" cy="362.7" rx="3.4" ry="4.4" transform="rotate(-25 374.2 362.7)" fill="#555" stroke="#242424" stroke-width="1.68"/>
<path d="M377.0,338.2 L385.0,338.8" fill="none" stroke="#242424" stroke-width="1.34"/>
<path d="M379.2,338.5 L375.7,358.4" fill="none" stroke="#242424" stroke-width="1.12"/>
<path d="M379.2,338.5 L382.8,354.1" fill="none" stroke="#242424" stroke-width="1.12"/>
<path d="M379.2,338.5 L395.6,346.3" fill="none" stroke="#242424" stroke-width="1.12"/>
<path d="M332.0,301.0 L340.8,296.3" fill="none" stroke="#2a2a2a" stroke-width="2.8"/>
<ellipse cx="332.7" cy="300.6" rx="2.1" ry="3.0" transform="rotate(-28 332.7 300.6)" fill="#2a2a2a" stroke="#2a2a2a" stroke-width="1.12"/>
<path d="M344.3,297.2 L352.0,296.6" fill="none" stroke="#242424" stroke-width="1.4"/>
<ellipse cx="351" cy="309.6" rx="3.2" ry="3.2" transform="rotate(0 351 309.6)" fill="#333" stroke="#242424" stroke-width="1.34"/>
<path d="M354.0,308.7 L365.5,306.8" fill="none" stroke="#242424" stroke-width="1.4"/>
<path d="M235.6,212.7 L244.2,211.3 L243.4,238.3 L236.3,236.9 Z" fill="none" stroke="#242424" stroke-width="1.46"/>
<path d="M244.2,211.3 L256.3,216.9 L256.3,232.6 L243.4,238.3" fill="none" stroke="#242424" stroke-width="1.46"/>
<path d="M239.2,210.5 L247.7,208.4 L257.7,208.4 L259,210 L256.5,212 L250,212.5 L256.3,216.9" fill="none" stroke="#242424" stroke-width="1.34"/>
<path d="M235.6,218 L233,219.5 L233,225 L235.8,226.5 M236,229 L233.5,230.5 L234,235 L236.3,236.9" fill="none" stroke="#242424" stroke-width="1.34"/>
<path d="M238,216 L238,234 M241,215.5 L241,222 M241,226 L241,235" fill="none" stroke="#242424" stroke-width="1.68"/>
<path d="M246,217 L254,220.5 M246,224 L254,227 M249,213.5 L249,236" fill="none" stroke="#242424" stroke-width="1.01"/>
<path d="M239,238 L240,241 L247,241.5 L248,237" fill="none" stroke="#242424" stroke-width="1.34"/>
<ellipse cx="255.3" cy="209.8" rx="1.4" ry="0.9" transform="rotate(0 255.3 209.8)" fill="none" stroke="#242424" stroke-width="1.01"/>
<path d="M228.5,199.2 L236.3,210.5" fill="none" stroke="#242424" stroke-width="1.4"/>
<path d="M215.0,233.3 L229.2,226.9" fill="none" stroke="#242424" stroke-width="1.4"/>
<path d="M274,188.5 L292.5,180 L324.5,197 L326,199.9 L325.2,225.5 L307.5,236.9 L274,216 Z" fill="none" stroke="#242424" stroke-width="1.46"/>
<path d="M274,188.5 L307.5,207.5 L307.5,236.9 M307.5,207.5 L324.5,197" fill="none" stroke="#242424" stroke-width="1.34"/>
<path d="M285.4,194.8 L285.4,223 M296.1,201 L296.1,230 M285.4,194.8 L303.5,186 M296.1,201 L314,191.5" fill="none" stroke="#242424" stroke-width="1.34"/>
<path d="M284,186.5 L291,183.5 M295,192.5 L302,189 M306,198.5 L313,195" fill="none" stroke="#242424" stroke-width="2.46"/>
<path d="M276.5,193.5 L283,197 L283,203 L276.5,199.5 Z M287.5,199.8 L294,203.3 L294,209.3 L287.5,205.8 Z M298.5,206 L305,209.5 L305,215.5 L298.5,212 Z" fill="none" stroke="#242424" stroke-width="1.46"/>
<path d="M277.5,196.5 L282,199 M288.5,202.8 L293,205.3 M299.5,209 L304,211.5" fill="none" stroke="#242424" stroke-width="1.79"/>
<path d="M278.5,205.5 L271,213.5 L273,216 L281,208.5" fill="none" stroke="#242424" stroke-width="1.68"/>
<path d="M289.5,212.5 L283,219.5 L285,222 L292,215" fill="none" stroke="#242424" stroke-width="1.68"/>
<path d="M300.5,219.5 L295,226 L297,228.5 L303,222" fill="none" stroke="#242424" stroke-width="1.68"/>
<ellipse cx="279.5" cy="206.5" rx="2.6" ry="3.2" transform="rotate(0 279.5 206.5)" fill="none" stroke="#242424" stroke-width="1.46"/>
<ellipse cx="290.5" cy="213" rx="2.6" ry="3.2" transform="rotate(0 290.5 213)" fill="none" stroke="#242424" stroke-width="1.46"/>
<ellipse cx="301.5" cy="219.5" rx="2.6" ry="3.2" transform="rotate(0 301.5 219.5)" fill="none" stroke="#242424" stroke-width="1.46"/>
<path d="M286,224 L291,229 M297,230.5 L302,235" fill="none" stroke="#242424" stroke-width="2.02"/>
<path d="M318,203 L318.5,222 M310,210 L309.8,231" fill="none" stroke="#242424" stroke-width="0.9"/>
<path d="M274,221.5 L264.1,226.9 L286,239.7 M272,231.5 L281,227 M279.5,236 L290,230.5 M286,239.7 L297,233.5" fill="none" stroke="#242424" stroke-width="1.12"/>
<path d="M286.0,239.7 L297.8,248.1" fill="none" stroke="#242424" stroke-width="1.4"/>
<path d="M303.9,176.4 L300.3,182.1" fill="none" stroke="#242424" stroke-width="1.4"/>
<path d="M326.0,209.8 L336.0,207.7" fill="none" stroke="#242424" stroke-width="1.4"/>
<path d="M297.8,248.1 L343.4,270.5" fill="none" stroke="#242424" stroke-width="1.4" stroke-dasharray="9 2.5 2 2.5"/>
<path d="M343.4,270.5 L302.8,292.8" fill="none" stroke="#242424" stroke-width="1.4"/>
<path d="M302.8,292.8 L289.6,301.1" fill="none" stroke="#242424" stroke-width="1.4" stroke-dasharray="5 2.5"/>
<path d="M244.0,277.1 L289.6,301.1" fill="none" stroke="#242424" stroke-width="1.4" stroke-dasharray="7 3"/>
<ellipse cx="87.3" cy="397.8" rx="2.8" ry="5" transform="rotate(28 87.3 397.8)" fill="none" stroke="#242424" stroke-width="1.46"/>
<path d="M85,393.8 L100.5,386.3 M89.8,402 L103,395.2 M100.5,386.3 C103,388 104,392 103,395.2 M100.8,390 L113.5,383.8 M102.5,393.5 L115,387.2" fill="none" stroke="#242424" stroke-width="1.34"/>
<path d="M113,383.5 L115.5,388" fill="none" stroke="#242424" stroke-width="2.91"/>
<path d="M92,392 L97,389.5 M93,397 L98,394.5" fill="none" stroke="#242424" stroke-width="1.01"/>
<path d="M88.0,403.0 L80.3,419.0" fill="none" stroke="#242424" stroke-width="1.4"/>
<path d="M128,399.5 L136,397.5 L139.5,401.5 L137,405 L133,402.5 L128.5,403.5 Z" fill="none" stroke="#242424" stroke-width="1.46"/>
<ellipse cx="138.5" cy="402.5" rx="2.2" ry="2.8" transform="rotate(0 138.5 402.5)" fill="none" stroke="#242424" stroke-width="1.34"/>
<ellipse cx="145.4" cy="396.3" rx="2.6" ry="3" transform="rotate(0 145.4 396.3)" fill="none" stroke="#242424" stroke-width="1.79"/>
<ellipse cx="145.4" cy="396.3" rx="0.8" ry="1" transform="rotate(0 145.4 396.3)" fill="#242424" stroke="#242424" stroke-width="1.4"/>
<ellipse cx="153.3" cy="392.8" rx="2.6" ry="3" transform="rotate(0 153.3 392.8)" fill="none" stroke="#242424" stroke-width="1.79"/>
<ellipse cx="153.3" cy="392.8" rx="0.8" ry="1" transform="rotate(0 153.3 392.8)" fill="#242424" stroke="#242424" stroke-width="1.4"/>
<ellipse cx="162.2" cy="388.5" rx="2.6" ry="3" transform="rotate(0 162.2 388.5)" fill="none" stroke="#242424" stroke-width="1.79"/>
<ellipse cx="162.2" cy="388.5" rx="0.8" ry="1" transform="rotate(0 162.2 388.5)" fill="#242424" stroke="#242424" stroke-width="1.4"/>
<ellipse cx="168.2" cy="385.2" rx="2.6" ry="3" transform="rotate(0 168.2 385.2)" fill="none" stroke="#242424" stroke-width="1.79"/>
<ellipse cx="168.2" cy="385.2" rx="0.8" ry="1" transform="rotate(0 168.2 385.2)" fill="#242424" stroke="#242424" stroke-width="1.4"/>
<path d="M139.7,409.1 L173.9,393.5 M139.7,409.1 L137,405 M145.4,399.5 L146.5,406 M153.3,396 L154.5,402.3 M162.2,391.7 L163.3,398.3 M168.8,388.5 L173.9,393.5" fill="none" stroke="#242424" stroke-width="1.34"/>
<path d="M173.9,393.5 L195.0,394.5" fill="none" stroke="#242424" stroke-width="1.4"/>
<path d="M171.0,385.7 L172.7,383.3" fill="none" stroke="#242424" stroke-width="1.4"/>
<path d="M132.2,430.5 L138.2,426.6 L160.3,442.8 L159.3,466.5 L154.8,468.6 L131.2,454.5 Z" fill="none" stroke="#242424" stroke-width="1.68"/>
<path d="M134.8,433 L156.5,447 L155.6,465.5 L134,452.5 Z" fill="none" stroke="#242424" stroke-width="1.23"/>
<path d="M138.2,426.6 L136.2,429.5 L158,444.8 L160.3,442.8 M158,444.8 L157,467" fill="none" stroke="#242424" stroke-width="1.12"/>
<path d="M134,446.5 L155.6,459.5 L155.6,465.5 L134,452.5 Z" fill="#3a3a3a" stroke="#242424" stroke-width="1.12"/>
<path d="M137,437 L137.5,447 M141.5,449 C142.5,443 147,441 153,444.5 M146,448 L150.5,443.5" fill="none" stroke="#242424" stroke-width="1.12"/>
<path d="M148.3,431.9 C150,427 157,425 163,427.5 C169,430 173,437 172.8,446 C172.5,452 170,456 165,459 L160,461.5" fill="none" stroke="#242424" stroke-width="1.46"/>
<path d="M160.5,443 C163,441 166.5,441.5 169,444" fill="none" stroke="#242424" stroke-width="1.12"/>
<path d="M165.3,436.3 L169,438.5 L167.5,440.5" fill="none" stroke="#242424" stroke-width="1.57"/>
<path d="M172.5,443.3 C180,439 187,438 194,437.3 M172.8,447.5 C180,443.5 188,442.5 194.5,442 M194,436.5 L194.8,443.5" fill="none" stroke="#242424" stroke-width="1.34"/>
<path d="M140.6,461.4 L135.5,472.4" fill="none" stroke="#242424" stroke-width="1.4"/>
<path d="M362,224 L366,222.5 M363,229 L369,226 M369.5,221 L371,236.5 M377.5,222.5 L380,234 M373,238 L379,241 M374,233 L380.5,237" fill="none" stroke="#333" stroke-width="1.79"/>
<path d="M361.5,238 C360,245 360.5,254 364,260 M375.5,243 C378,249 378,256 375,261.5" fill="none" stroke="#333" stroke-width="1.68"/>
<path d="M383,231 L393.5,226.5 M383.5,268 L395,260.5 M386,245 L386.5,258 M391,233 L392,262" fill="none" stroke="#444" stroke-width="1.01"/>
<path d="M369,240 L369.5,244 M362.5,249 L365.5,250 M369,256.5 L370,259.5" fill="none" stroke="#333" stroke-width="2.02"/>
<path d="M410.5,279 C409.5,285 410.5,291 414,295 M424.5,279 C426,285 425.5,291 422.5,295.5 M410.5,300 C409.5,306 410.5,312 414,316 M424.5,300 C426,306 425.5,312 422.5,316.5" fill="none" stroke="#333" stroke-width="1.57"/>
<path d="M411.5,272 L414.5,270.5 M419,269.5 L424,270.5 M433,273.5 L436,277 M434,296 L437.5,295 M434,315 L438,312.5 M428.5,292 L429,298 M433,281 L433.2,283.5 M433.5,299 L433.7,301.5" fill="none" stroke="#333" stroke-width="1.79"/>
<path d="M437,352 C436,358 437,365 440.5,369 M448.5,350 C450.5,356 450,363 447,368" fill="none" stroke="#333" stroke-width="1.57"/>
<path d="M442,337 L446.5,340 M448,333.5 L454,338 M449,343 L453.5,346.5 M456.5,356 L457,370.5 M462.5,350 L466.5,352.5 M463,364 L466.5,366 M451,367 L454.5,369.5" fill="none" stroke="#333" stroke-width="1.79"/>
<path d="M400,336.5 L416.5,343.2 L417.2,350.6 L400,343.6 Z" fill="#4a4a4a" stroke="#333" stroke-width="0.9"/>
<path d="M402.5,338.2 L402.5,343.6 M406,339.6 L406,345 M409.5,341 L409.5,346.4 M413,342.4 L413,347.8" fill="none" stroke="#ddd" stroke-width="1.12"/>
<path d="M419.5,344.5 L430.5,339.5 L430.5,342.5 L419.5,348.5 Z" fill="#666" stroke="#333" stroke-width="0.9"/>
<path d="M277,208.5 L282.5,211.5 M288,215 L293.5,218 M299,221.5 L304.5,224.5" fill="none" stroke="#333" stroke-width="2.46"/>
<path d="M275,213 L275,216.5 L284,222 M286,219.5 L286,223 L295,228.5 M297,226 L297,229.5 L306,235" fill="none" stroke="#333" stroke-width="1.12"/>
</svg>
</body></html>
